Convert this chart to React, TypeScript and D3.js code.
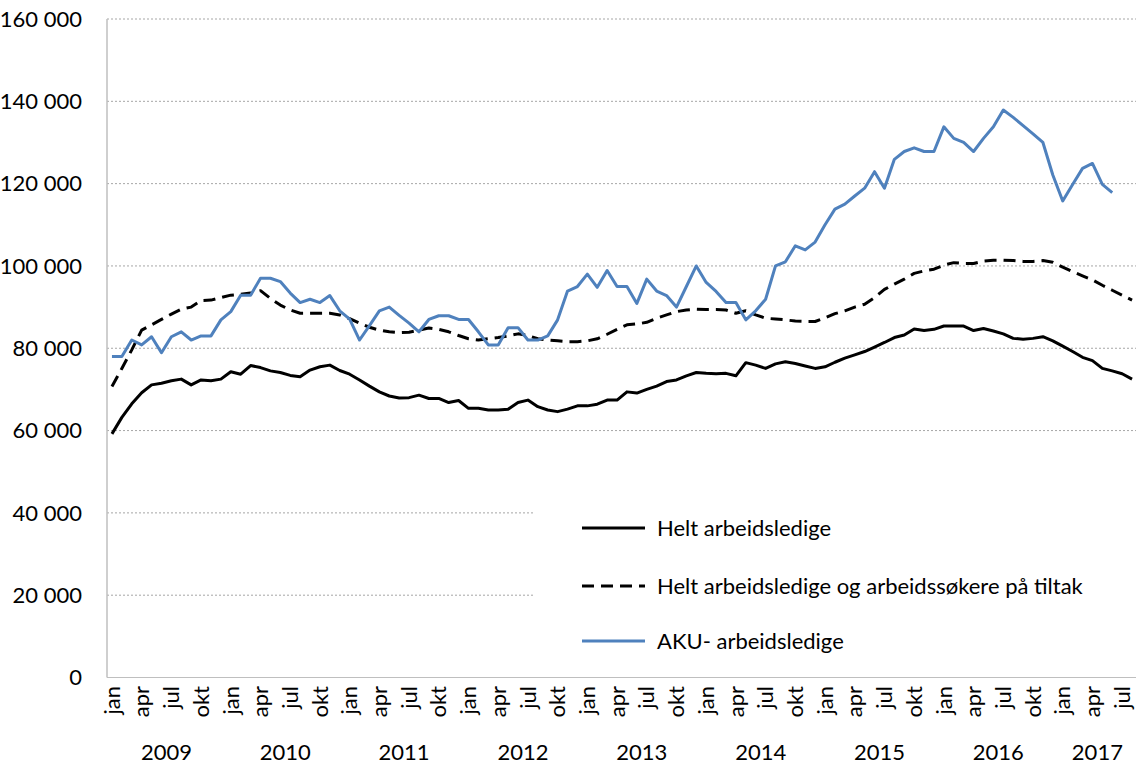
import React from "react";
import * as d3 from "d3";

const years = ["2009", "2010", "2011", "2012", "2013", "2014", "2015", "2016", "2017"];
const monthNames = ["jan", "feb", "mar", "apr", "mai", "jun", "jul", "aug", "sep", "okt", "nov", "des"];
const monthCount = 104; // jan 2009 - aug 2017
const tickMonths = ["jan", "apr", "jul", "okt"];
const yTicks = [0, 20000, 40000, 60000, 80000, 100000, 120000, 140000, 160000];

// Helt arbeidsledige
const heltLedige = [
  59200, 63200, 66500, 69200, 71100, 71500, 72100, 72500, 71100, 72300, 72100, 72500,
  74300, 73700, 75800, 75300, 74500, 74100, 73400, 73100, 74700, 75500, 75900, 74600,
  73700, 72300, 70800, 69400, 68400, 67900, 68000, 68600, 67800, 67800, 66800, 67300,
  65400, 65400, 65000, 65000, 65200, 66800, 67400, 65800, 65000, 64600, 65200, 66000,
  66000, 66400, 67400, 67400, 69400, 69100, 70000, 70800, 71900, 72300, 73300, 74100,
  73900, 73800, 73900, 73300, 76500, 75900, 75100, 76200, 76700, 76300, 75700, 75100,
  75500, 76600, 77600, 78400, 79200, 80300, 81400, 82600, 83200, 84700, 84300, 84600,
  85400, 85400, 85400, 84300, 84800, 84200, 83500, 82400, 82200, 82400, 82800, 81800,
  80500, 79200, 77800, 77000, 75100, 74500, 73800, 72500,
];

// Helt arbeidsledige og arbeidssøkere på tiltak
const medTiltak = [
  70700, 75100, 79600, 84400, 85700, 87000, 88300, 89500, 90000, 91600, 91700, 92300,
  92900, 93100, 93400, 94000, 92100, 90500, 89300, 88500, 88500, 88500, 88500, 88100,
  87200, 86100, 85100, 84400, 84000, 83800, 83900, 84400, 84900, 84600, 84000, 83100,
  82300, 82000, 82300, 82600, 83000, 83500, 83100, 82300, 82000, 81800, 81600, 81600,
  81800, 82300, 83400, 84600, 85700, 85900, 86300, 87300, 88100, 88900, 89300, 89500,
  89400, 89400, 89300, 88500, 89100, 88100, 87300, 87100, 86900, 86600, 86500, 86500,
  87400, 88400, 89100, 90000, 90700, 92300, 94300, 95600, 96800, 98200, 98800, 99200,
  100200, 100800, 100600, 100600, 101200, 101400, 101400, 101300, 101100, 101100, 101300, 100900,
  99700, 98600, 97600, 96600, 95300, 94100, 92900, 91700,
];

// AKU- arbeidsledige (ends jun 2017)
const aku = [
  78000, 78000, 82000, 80800, 82800, 78900, 82800, 84000, 82000, 83000, 83000, 86900,
  88900, 92900, 92900, 97000, 97000, 96200, 93400, 91100, 91900, 91100, 92800, 89100,
  87100, 82000, 85500, 89100, 90000, 88000, 86100, 84000, 87000, 87900, 87900, 87000,
  87000, 84000, 80800, 80800, 85000, 85000, 82000, 82000, 83000, 86900, 93900, 95000,
  98000, 94800, 98900, 95000, 95000, 90900, 96800, 93900, 92800, 90000, 95000, 100000,
  96000, 93800, 91100, 91100, 86900, 89100, 91900, 100000, 101000, 104900, 103900, 105800,
  110000, 113800, 115000, 117000, 118900, 122900, 118900, 125900, 127800, 128700, 127800, 127800,
  133800, 131000, 130000, 127800, 131000, 133800, 137900, 136100, 134100, 132100, 130000, 122100,
  115800, 119800, 123700, 124900, 119800, 117800,
];

const series = [
  { name: "Helt arbeidsledige", values: heltLedige, color: "#000000", dash: null },
  { name: "Helt arbeidsledige og arbeidssøkere på tiltak", values: medTiltak, color: "#000000", dash: "12 7" },
  { name: "AKU- arbeidsledige", values: aku, color: "#4f81bd", dash: null },
];

const width = 1136;
const height = 767;
const plot = { left: 107, right: 1137, top: 19, bottom: 677.5 };
const font = "Lato, 'Open Sans', sans-serif";
const fontSize = 22;

const categories = d3.range(monthCount).map((i) => ({
  i,
  month: monthNames[i % 12],
  year: years[Math.floor(i / 12)],
}));

const legendY = [528, 586, 641];

const App = () => {
  const x = d3
    .scaleBand<number>()
    .domain(categories.map((c) => c.i))
    .range([plot.left, plot.right]);
  const cx = (i: number) => (x(i) as number) + x.bandwidth() / 2;

  const y = d3.scaleLinear().domain([0, 160000]).range([plot.bottom, plot.top]);

  const line = d3
    .line<number>()
    .x((_, i) => cx(i))
    .y((d) => y(d));

  const fmt = (v: number) => d3.format(",")(v).replace(/,/g, " ");

  return (
    <div style={{ position: "absolute", left: 0, top: 0 }}>
      <svg width={width} height={height} style={{ display: "block", fontFamily: font }}>
        <rect width={width} height={height} fill="#fff" />

        {/* gridlines */}
        {yTicks.filter((t) => t > 0).map((t) => (
          <line
            key={t}
            x1={plot.left}
            x2={1140}
            y1={y(t)}
            y2={y(t)}
            stroke="#a6a6a6"
            strokeWidth={1}
            strokeDasharray="2 2"
          />
        ))}
        <line x1={plot.left} x2={1140} y1={y(0)} y2={y(0)} stroke="#bfbfbf" strokeWidth={1} />
        <line x1={plot.left} x2={plot.left} y1={y(160000)} y2={y(0)} stroke="#bfbfbf" strokeWidth={1.5} />

        {/* y labels */}
        {yTicks.map((t) => (
          <text key={t} x={82} y={y(t)} dy="0.35em" textAnchor="end" fontSize={fontSize} fill="#000">
            {fmt(t)}
          </text>
        ))}

        {/* month labels */}
        {categories
          .filter((c) => tickMonths.includes(c.month) && c.i < 103)
          .map((c) => (
            <text
              key={c.i}
              transform={`translate(${cx(c.i)},686) rotate(-90)`}
              textAnchor="end"
              dy="0.35em"
              fontSize={fontSize}
              fill="#000"
            >
              {c.month}
            </text>
          ))}

        {/* year labels */}
        {years.map((yr) => {
          const idx = categories.filter((c) => c.year === yr).map((c) => c.i);
          const mid = (cx(idx[0]) + cx(idx[idx.length - 1])) / 2;
          return (
            <text key={yr} x={mid} y={760} textAnchor="middle" fontSize={fontSize} fill="#000">
              {yr}
            </text>
          );
        })}

        {/* series */}
        {series.map((s) => (
          <path
            key={s.name}
            d={line(s.values) ?? ""}
            fill="none"
            stroke={s.color}
            strokeWidth={3}
            strokeDasharray={s.dash ?? undefined}
            strokeLinejoin="round"
          />
        ))}

        {/* legend */}
        <rect x={535} y={480} width={605} height={180} fill="#fff" />
        {series.map((s, k) => (
          <g key={s.name}>
            <line
              x1={582}
              x2={645}
              y1={legendY[k]}
              y2={legendY[k]}
              stroke={s.color}
              strokeWidth={3}
              strokeDasharray={s.dash ?? undefined}
            />
            <text x={657} y={legendY[k]} dy="0.35em" fontSize={fontSize} fill="#000">
              {s.name}
            </text>
          </g>
        ))}
      </svg>
    </div>
  );
};

export default App;
